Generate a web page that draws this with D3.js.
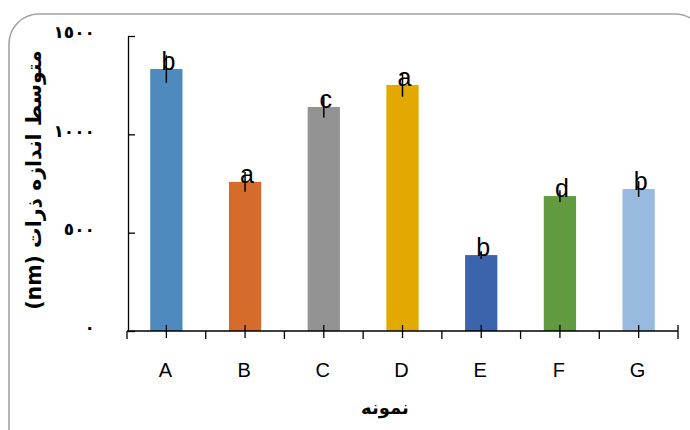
<!DOCTYPE html>
<html><head><meta charset="utf-8">
<script src="https://cdn.jsdelivr.net/npm/d3@7"></script>
<style>body{margin:0;background:#fff;} svg{display:block}</style>
</head><body><svg id="c" width="690" height="430"></svg>
<script>
const categories = ["A","B","C","D","E","F","G"];
const values = [1332,758,1139,1251,386,686,722];
const errors = [70,50,53,60,20,30,40];
const letters = ["b","a","c","a","b","d","b"];
const colors = ["#4e8abe","#d56c2b","#939393","#e2a900","#3b64ad","#629a3f","#99badf"];
const yTicks = [0,500,1000,1500];
const yTickLabels = ["٠","٥٠٠","١٠٠٠","١٥٠٠"];
const yTitle = "متوسط اندازه ذرات (nm)";
const xTitle = "نمونه";

const svg = d3.select("#c");
svg.append("rect").attr("x",9).attr("y",14).attr("width",696).attr("height",460).attr("rx",30)
  .attr("fill","none").attr("stroke","#a3a3a3").attr("stroke-width",1.6);

const x = d3.scaleBand().domain(categories).range([127,678]).paddingInner(0.59).paddingOuter(0.295);
const y = d3.scaleLinear().domain([0,1500]).range([331,36]);
const data = categories.map((c,i)=>({c, v:values[i], e:errors[i], l:letters[i], col:colors[i]}));

// bars
svg.append("g").selectAll("rect").data(data).join("rect")
  .attr("x",d=>x(d.c)).attr("width",x.bandwidth())
  .attr("y",d=>y(d.v)).attr("height",d=>y(0)-y(d.v)).attr("fill",d=>d.col);

// error bars
svg.append("g").selectAll("line").data(data).join("line")
  .attr("x1",d=>x(d.c)+x.bandwidth()/2).attr("x2",d=>x(d.c)+x.bandwidth()/2)
  .attr("y1",d=>y(d.v+d.e)).attr("y2",d=>y(d.v-d.e))
  .attr("stroke","#000").attr("stroke-width",1.5);

// letters
svg.append("g").selectAll("text").data(data).join("text")
  .attr("x",d=>x(d.c)+x.bandwidth()/2+2).attr("y",d=>y(d.v)+1)
  .attr("text-anchor","middle").attr("font-family","Liberation Sans, Arial, sans-serif")
  .attr("font-size",25).attr("fill","#000").text(d=>d.l);

// y axis
const yAxis = d3.axisLeft(y).tickValues(yTicks).tickSizeInner(-7).tickSizeOuter(0)
  .tickPadding(33).tickFormat((d,i)=>yTickLabels[i]);
const gy = svg.append("g").attr("transform","translate(128,0)").call(yAxis);
gy.select(".domain").attr("stroke","#000").attr("stroke-width",1.3);
gy.selectAll(".tick line").attr("stroke","#000").attr("stroke-width",1.3);
gy.selectAll(".tick text").attr("font-family","DejaVu Sans, sans-serif").attr("font-weight","bold")
  .attr("font-size",17).attr("fill","#000").attr("dy","0.1em");

// x axis
const step = x.step();
const gx = svg.append("g");
gx.append("line").attr("x1",x.range()[0]).attr("x2",x.range()[1]).attr("y1",y(0)).attr("y2",y(0))
  .attr("stroke","#000").attr("stroke-width",1.3);
const bounds = d3.range(categories.length+1);
gx.selectAll("line.b").data(bounds).join("line").attr("class","b")
  .attr("x1",i=>x.range()[0]+i*step).attr("x2",i=>x.range()[0]+i*step)
  .attr("y1",i=>i===categories.length?y(0)-6:y(0)).attr("y2",y(0)+8)
  .attr("stroke","#000").attr("stroke-width",1.3);
gx.selectAll("line.c").data(categories).join("line").attr("class","c")
  .attr("x1",c=>x(c)+x.bandwidth()/2).attr("x2",c=>x(c)+x.bandwidth()/2)
  .attr("y1",y(0)-6).attr("y2",y(0)+7)
  .attr("stroke","#000").attr("stroke-width",1.3);
gx.selectAll("text").data(categories).join("text")
  .attr("x",c=>x(c)+x.bandwidth()/2-1).attr("y",377)
  .attr("text-anchor","middle").attr("font-family","Liberation Sans, Arial, sans-serif")
  .attr("font-size",20).attr("fill","#000").text(c=>c);

// titles
svg.append("text").attr("x",385).attr("y",414).attr("text-anchor","middle")
  .attr("font-family","DejaVu Sans, sans-serif").attr("font-weight","bold").attr("font-size",18)
  .attr("direction","rtl").text(xTitle);
svg.append("text").attr("transform","translate(41,180) rotate(-90)").attr("text-anchor","middle")
  .attr("direction","rtl")
  .attr("font-family","DejaVu Sans, sans-serif").attr("font-weight","bold").attr("font-size",20.5)
  .text(yTitle);
</script></body></html>
